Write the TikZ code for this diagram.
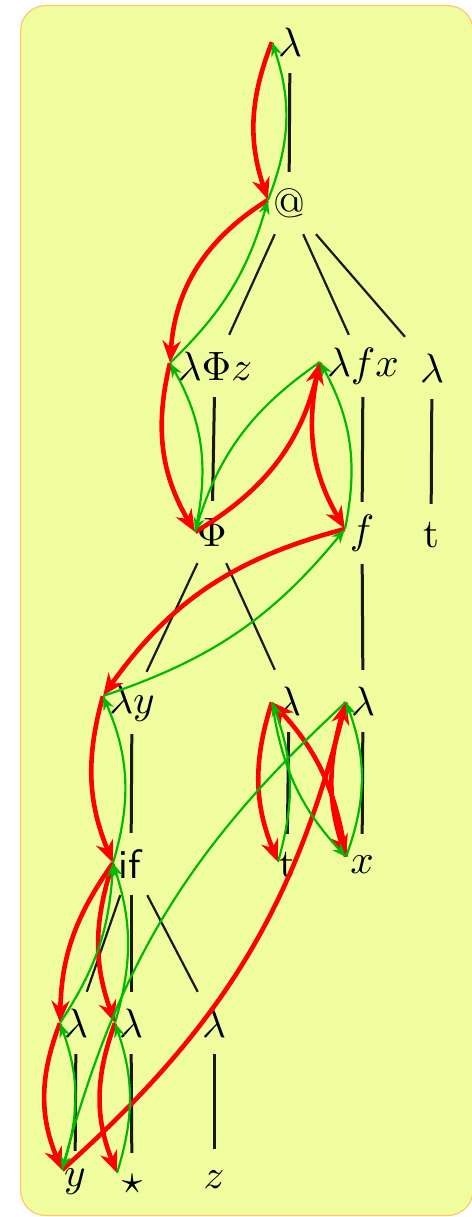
\documentclass[tikz,border=0pt]{standalone}
\usepackage{graphicx}
\usetikzlibrary{arrows.meta}
\definecolor{bgfill}{RGB}{240,253,158}
\definecolor{bgline}{RGB}{255,200,110}
\definecolor{redarr}{RGB}{255,0,0}
\definecolor{greenarr}{RGB}{0,185,0}
\newcommand{\bigtxt}[1]{\scalebox{4.1}{#1}}
\begin{document}
\begin{tikzpicture}[x=1pt,y=1pt,
  lbl/.style={inner sep=0pt, minimum width=62pt, minimum height=62pt},
  port/.style={inner sep=0pt, minimum size=0pt},
  vedge/.style={line width=3pt, black!90},
  dedge/.style={line width=2.2pt, black!90},
  redarrow/.style={draw=redarr, line width=4.6pt, -{Stealth[length=22pt,width=18pt,inset=7pt]}},
  greenarrow/.style={draw=greenarr, line width=2.2pt, -{Stealth[length=14pt,width=11pt,inset=4.5pt]}},
]
\useasboundingbox (0,0) rectangle (471,-1217);
\draw[fill=bgfill, draw=bgline, line width=1.2pt, rounded corners=25pt] (20.6,-5.6) rectangle (473,-1215.5);

% labels
\node[lbl] (lamtop) at (290,-42) {\bigtxt{$\lambda$}};
\node[lbl] (app) at (289,-203) {\bigtxt{@}};
\node[lbl] (lPz) at (215,-366) {\bigtxt{$\lambda\Phi z$}};
\node[lbl] (lfx) at (363,-366) {\bigtxt{$\lambda f x$}};
\node[lbl] (lamR) at (432,-368) {\bigtxt{$\lambda$}};
\node[lbl] (Phi) at (212,-532) {\bigtxt{$\Phi$}};
\node[lbl] (f) at (362,-533) {\bigtxt{$f$}};
\node[lbl] (tR) at (431,-535) {\bigtxt{t}};
\node[lbl] (ly) at (132,-703) {\bigtxt{$\lambda y$}};
\node[lbl] (lamM) at (289,-701) {\bigtxt{$\lambda$}};
\node[lbl] (lamN) at (363,-701) {\bigtxt{$\lambda$}};
\node[lbl] (if) at (131,-864) {\bigtxt{\textsf{if}}};
\node[lbl] (tM) at (287,-865) {\bigtxt{t}};
\node[lbl] (x) at (362,-865) {\bigtxt{$x$}};
\node[lbl] (lamA) at (76,-1023) {\bigtxt{$\lambda$}};
\node[lbl] (lamB) at (131,-1023) {\bigtxt{$\lambda$}};
\node[lbl] (lamC) at (214,-1023) {\bigtxt{$\lambda$}};
\node[lbl] (y) at (75,-1182) {\bigtxt{$y$}};
\node[lbl] (star) at (132,-1184) {\bigtxt{$\star$}};
\node[lbl] (z) at (214,-1180) {\bigtxt{$z$}};

% ports
\node[port] (lamtop-p) at (272,-42) {};
\node[port] (app-p) at (268,-200) {};
\node[port] (lPz-p) at (170,-363) {};
\node[port] (lfx-p) at (320,-362) {};
\node[port] (Phi-p) at (195,-532) {};
\node[port] (f-p) at (345,-529) {};
\node[port] (ly-p) at (103,-696) {};
\node[port] (lamM-p) at (272,-702) {};
\node[port] (lamN-p) at (346,-702) {};
\node[port] (if-p) at (113,-863) {};
\node[port] (tM-p) at (278,-862) {};
\node[port] (x-p) at (346,-857) {};
\node[port] (lamA-p) at (60,-1023) {};
\node[port] (lamB-p) at (115,-1023) {};
\node[port] (y-p) at (62,-1170) {};
\node[port] (star-p) at (117,-1173) {};

% tree edges
\draw[vedge] (lamtop) -- (app);
\draw[vedge] (lPz) -- (Phi);
\draw[vedge] (lfx) -- (f);
\draw[vedge] (lamR) -- (tR);
\draw[vedge] (f) -- (lamN);
\draw[vedge] (ly) -- (if);
\draw[vedge] (lamM) -- (tM);
\draw[vedge] (lamN) -- (x);
\draw[vedge] (if) -- (lamB);
\draw[vedge] (lamA) -- (y);
\draw[vedge] (lamB) -- (star);
\draw[vedge] (lamC) -- (z);
\draw[dedge] (app) -- (lPz);
\draw[dedge] (app) -- (lfx);
\draw[dedge] (app) -- (lamR);
\draw[dedge] (Phi) -- (ly);
\draw[dedge] (Phi) -- (lamM);
\draw[dedge] (if) -- (lamA);
\draw[dedge] (if) -- (lamC);

% red path
\draw[redarrow] (lamtop-p) to[bend right=20] (app-p);
\draw[redarrow] (app-p) to[bend right=27] (lPz-p);
\draw[redarrow] (lPz-p) to[bend right=22] (Phi-p);
\draw[redarrow] (Phi-p) to[bend right=23] (lfx-p);
\draw[redarrow] (lfx-p) to[bend right=22] (f-p);
\draw[redarrow] (f-p) to[bend right=20] (ly-p);
\draw[redarrow] (ly-p) to[bend right=19] (if-p);
\draw[redarrow] (if-p) to[bend right=17] (lamA-p);
\draw[redarrow] (if-p) to[bend right=19] (lamB-p);
\draw[redarrow] (lamA-p) to[bend right=22] (y-p);
\draw[redarrow] (lamB-p) to[bend right=21] (star-p);
\draw[redarrow] (y-p) to[bend right=17] (lamN-p);
\draw[redarrow] (lamN-p) to[bend right=18] (x-p);
\draw[redarrow] (x-p) to[bend right=17] (lamM-p);
\draw[redarrow] (lamM-p) to[bend right=20] (tM-p);

% green path
\draw[greenarrow] (app-p) to[bend right=20] (lamtop-p);
\draw[greenarrow] (lPz-p) to[bend right=15] (app-p);
\draw[greenarrow] (Phi-p) to[bend right=21] (lPz-p);
\draw[greenarrow] (lfx-p) to[bend right=19] (Phi-p);
\draw[greenarrow] (f-p) to[bend right=20] (lfx-p);
\draw[greenarrow] (ly-p) to[bend right=16] (f-p);
\draw[greenarrow] (if-p) to[bend right=20] (ly-p);
\draw[greenarrow] (lamA-p) to[bend right=15] (if-p);
\draw[greenarrow] (lamB-p) to[bend right=17] (if-p);
\draw[greenarrow] (y-p) to[bend right=19] (lamA-p);
\draw[greenarrow] (star-p) to[bend right=18] (lamB-p);
\draw[greenarrow] (lamN-p) to[bend right=16] (y-p);
\draw[greenarrow] (x-p) to[bend right=20] (lamN-p);
\draw[greenarrow] (lamM-p) to[bend right=17] (x-p);
\draw[greenarrow] (tM-p) to[bend right=18] (lamM-p);
\end{tikzpicture}
\end{document}
